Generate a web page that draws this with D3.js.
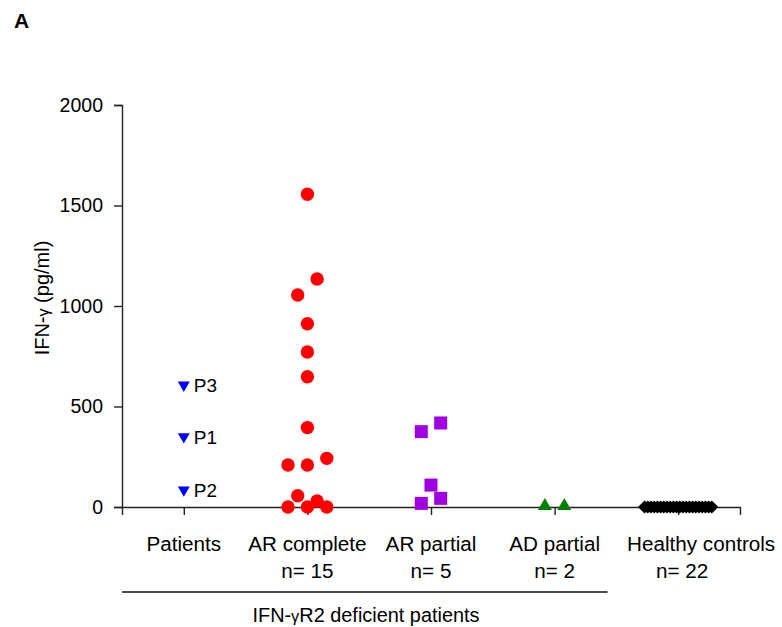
<!DOCTYPE html>
<html>
<head>
<meta charset="utf-8">
<script src="https://cdn.jsdelivr.net/npm/d3@7"></script>
<style>
  html, body { margin: 0; padding: 0; background: #fff; }
  svg { display: block; font-family: "Liberation Sans", Arial, sans-serif; }
</style>
</head>
<body>
<svg id="chart" width="782" height="627"></svg>
<script>
// ---- data ----
const categories = ["Patients", "AR complete", "AR partial", "AD partial", "Healthy controls"];
const nLabels = ["", "n= 15", "n= 5", "n= 2", "n= 22"];
const yTicks = [0, 500, 1000, 1500, 2000];

const patientNames = ["P3", "P1", "P2"];
const patientValues = [607, 350, 85];

const arCompleteValues = [1556, 1134, 1055, 912, 771, 648, 395, 209, 209, 242, 56, 0, 0, 30, 0];
const arCompleteSlots  = [0, 1, -1, 0, 0, 0, 0, -2, 0, 2, -1, -2, 0, 1, 2];

const arPartialValues = [418, 375, 109, 43, 18];
const arPartialSlots  = [1, -1, 0, 1, -1];

const adPartialValues = [0, 0];
const adPartialSlots  = [-1, 1];

const healthyValues = [0,0,0,0,0,0,0,0,0,0,0,0,0,0,0,0,0,0,0,0,0,0];

// ---- layout ----
const svg = d3.select("#chart");
const stretch = 1.06;
const x = d3.scalePoint().domain(categories).range([122, 740]).padding(0.5);
const y = d3.scaleLinear().domain([0, 2000]).range([507, 105]);
const slotW = 9.7;
const axisColor = "#222";
const textColor = "#000";

function stretchText(sel, k) {
  sel.each(function () {
    const len = this.getComputedTextLength();
    if (len > 0) {
      d3.select(this).attr("textLength", len * k).attr("lengthAdjust", "spacingAndGlyphs");
    }
  });
}

// Panel letter
svg.append("text").attr("x", 14).attr("y", 28)
  .attr("font-size", 21).attr("font-weight", "bold").attr("fill", textColor).text("A");

// Y axis
const yAxis = svg.append("g").attr("transform", "translate(122,0)")
  .call(d3.axisLeft(y).tickValues(yTicks).tickFormat(d3.format("d"))
    .tickSizeOuter(0).tickSize(8).tickPadding(11));
yAxis.select(".domain").attr("stroke", axisColor).attr("stroke-width", 1.4);
yAxis.selectAll(".tick line").attr("stroke", axisColor).attr("stroke-width", 1.4);
yAxis.selectAll(".tick text").attr("font-size", 19.5).attr("fill", textColor)
  .attr("font-family", "'Liberation Sans', Arial, sans-serif");

// Y title
const yTitle = svg.append("text")
  .attr("transform", "translate(49,298) rotate(-90)")
  .attr("text-anchor", "middle").attr("font-size", 20).attr("fill", textColor);
yTitle.append("tspan").text("IFN-");
yTitle.append("tspan").attr("font-size", 16).text("γ");
yTitle.append("tspan").text(" (pg/ml)");

// X axis
const xAxis = svg.append("g").attr("transform", "translate(0,507)")
  .call(d3.axisBottom(x).tickSizeOuter(0).tickSize(8).tickFormat(""));
xAxis.select(".domain").attr("stroke", axisColor).attr("stroke-width", 1.4);
xAxis.selectAll(".tick line").attr("stroke", axisColor).attr("stroke-width", 1.4);

// Category labels
const catLab = svg.append("g").selectAll("text").data(categories).join("text")
  .attr("x", d => d === "Healthy controls" ? 627 : x(d))
  .attr("y", 551)
  .attr("text-anchor", d => d === "Healthy controls" ? "start" : "middle")
  .attr("font-size", 19.5).attr("fill", textColor)
  .text(d => d);
stretchText(catLab, stretch);

const nLab = svg.append("g").selectAll("text").data(categories).join("text")
  .attr("x", d => d === "Healthy controls" ? x(d) + 4 : x(d))
  .attr("y", 578)
  .attr("text-anchor", "middle")
  .attr("font-size", 19.5).attr("fill", textColor)
  .text((d, i) => nLabels[i]);
stretchText(nLab, stretch);

// Bracket for deficient patients
const bx2 = x("AD partial") + 53;
svg.append("line")
  .attr("x1", 122).attr("x2", bx2)
  .attr("y1", 592).attr("y2", 592)
  .attr("stroke", "#111").attr("stroke-width", 1.4);
const bt = svg.append("text")
  .attr("x", 366).attr("y", 622)
  .attr("text-anchor", "middle").attr("font-size", 19.5).attr("fill", textColor);
bt.append("tspan").text("IFN-");
bt.append("tspan").attr("font-size", 16).text("γ");
bt.append("tspan").text("R2 deficient patients");
stretchText(bt, 1.02);

// ---- marks ----
const marks = svg.append("g");

// Patients: blue down triangles + labels
const triDown = d3.symbol().type(d3.symbolTriangle).size(62);
marks.append("g").selectAll("path").data(patientValues).join("path")
  .attr("d", triDown)
  .attr("transform", d => `translate(${x("Patients")},${y(d)}) rotate(180)`)
  .attr("fill", "#0000ff");
const pl = marks.append("g").selectAll("text").data(patientValues).join("text")
  .attr("x", x("Patients") + 10)
  .attr("y", d => y(d) + 7)
  .attr("font-size", 19).attr("fill", textColor)
  .text((d, i) => patientNames[i]);

// AR complete: red circles
marks.append("g").selectAll("circle").data(arCompleteValues).join("circle")
  .attr("cx", (d, i) => x("AR complete") + arCompleteSlots[i] * slotW)
  .attr("cy", d => y(d))
  .attr("r", 6.7)
  .attr("fill", "#ff0000");

// AR partial: purple squares
const sq = 13;
marks.append("g").selectAll("rect").data(arPartialValues).join("rect")
  .attr("x", (d, i) => x("AR partial") + arPartialSlots[i] * slotW - sq / 2)
  .attr("y", d => y(d) - sq / 2)
  .attr("width", sq).attr("height", sq)
  .attr("fill", "#a000e0");

// AD partial: green triangles
const triUp = d3.symbol().type(d3.symbolTriangle).size(85);
marks.append("g").selectAll("path").data(adPartialValues).join("path")
  .attr("d", triUp)
  .attr("transform", (d, i) => `translate(${x("AD partial") + adPartialSlots[i] * slotW},${y(d) - 1})`)
  .attr("fill", "#008000");

// Healthy controls: black diamonds
const hN = healthyValues.length;
const hUnit = 3.2;
marks.append("g").selectAll("path").data(healthyValues).join("path")
  .attr("d", "M0,-6.6L6.6,0L0,6.6L-6.6,0Z")
  .attr("transform", (d, i) => `translate(${x("Healthy controls") + (i - (hN - 1) / 2) * hUnit},${y(d)})`)
  .attr("fill", "#000");
</script>
</body>
</html>
